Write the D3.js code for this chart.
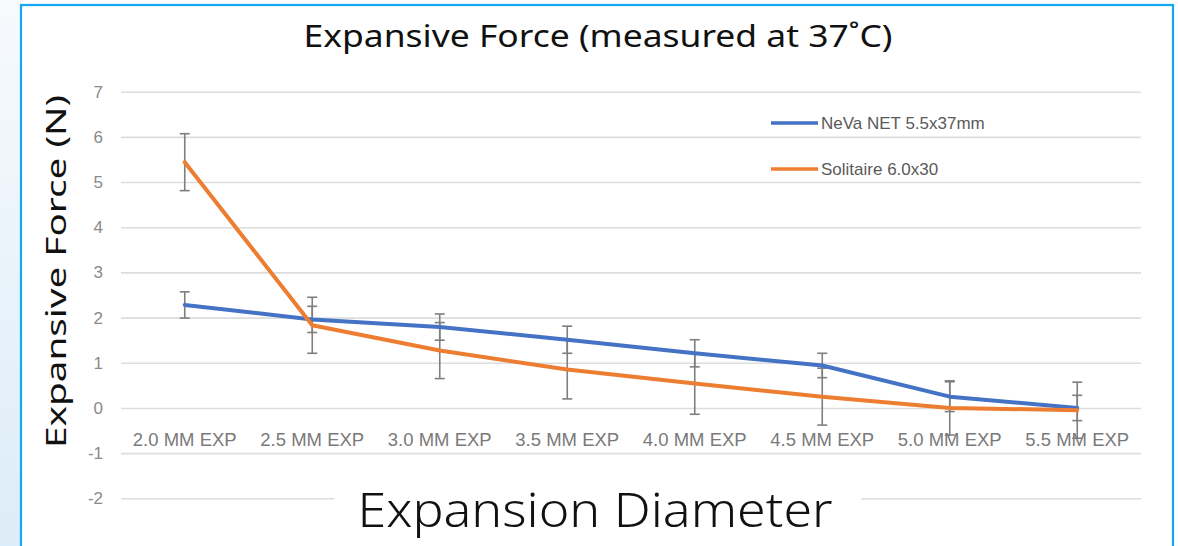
<!DOCTYPE html>
<html>
<head>
<meta charset="utf-8">
<script src="https://cdn.jsdelivr.net/npm/d3@7"></script>
<style>
  html, body { margin: 0; padding: 0; background: #ffffff; }
  svg { display: block; }
</style>
</head>
<body>
<div id="chart"></div>
<script>
// values
var categories = ["2.0 MM EXP", "2.5 MM EXP", "3.0 MM EXP", "3.5 MM EXP",
                  "4.0 MM EXP", "4.5 MM EXP", "5.0 MM EXP", "5.5 MM EXP"];
var nevaValues = [2.28, 1.96, 1.79, 1.51, 1.21, 0.94, 0.25, 0.0];
var nevaErrors = [0.29, 0.29, 0.29, 0.30, 0.30, 0.27, 0.33, 0.28];
var solitaireValues = [5.44, 1.83, 1.27, 0.85, 0.54, 0.25, 0.0, -0.05];
var solitaireErrors = [0.63, 0.62, 0.62, 0.65, 0.68, 0.63, 0.60, 0.62];
var yTicks = [-2, -1, 0, 1, 2, 3, 4, 5, 6, 7];
var seriesNames = ["NeVa NET 5.5x37mm", "Solitaire 6.0x30"];
var seriesColors = ["#4472c4", "#ed7d31"];

var width = 1178, height = 546;

var svg = d3.select('#chart').append('svg')
  .attr('width', width)
  .attr('height', height);

// background + framed panel
var defs = svg.append('defs');
var grad = defs.append('linearGradient')
  .attr('id', 'sideGrad')
  .attr('x1', 0).attr('y1', 0).attr('x2', 0).attr('y2', 1);
grad.append('stop').attr('offset', '0%').attr('stop-color', '#f7fafd');
grad.append('stop').attr('offset', '100%').attr('stop-color', '#dcecf8');

svg.append('rect').attr('x', 0).attr('y', 0).attr('width', 21).attr('height', height)
  .attr('fill', 'url(#sideGrad)');
svg.append('rect').attr('x', 21).attr('y', 5).attr('width', 1152).attr('height', height)
  .attr('fill', '#ffffff')
  .attr('stroke', '#12a8f2')
  .attr('stroke-width', 2.2);

var plot = {left: 121, right: 1141};

var x = d3.scaleBand()
  .domain(categories)
  .range([plot.left, plot.right]);

var y = d3.scaleLinear()
  .domain([-2, 7])
  .range([498.3, 91.7]);

var cx = function(c){ return x(c) + x.bandwidth()/2; };

// gridlines + y tick labels (plain hyphen for negatives, like the original)
var yAxis = svg.append('g')
  .attr('transform', 'translate(' + plot.left + ',0)')
  .call(d3.axisLeft(y)
    .tickValues(yTicks)
    .tickFormat(function(d){ return String(d); })
    .tickSizeInner(-(plot.right - plot.left))
    .tickSizeOuter(0)
    .tickPadding(18));
yAxis.select('.domain').remove();
yAxis.selectAll('.tick line')
  .attr('stroke', '#dddddd')
  .attr('stroke-width', 1.6);
yAxis.selectAll('.tick text')
  .attr('fill', '#8a8a8a')
  .style('font-family', '"Liberation Sans", Arial, sans-serif')
  .style('font-size', '17px');

// category labels
var xAxis = svg.append('g')
  .attr('transform', 'translate(0,' + y(0) + ')')
  .call(d3.axisBottom(x).tickSize(0).tickPadding(25));
xAxis.select('.domain').remove();
xAxis.selectAll('.tick text')
  .attr('fill', '#7a7a7a')
  .style('font-family', '"Liberation Sans", Arial, sans-serif')
  .style('font-size', '18.5px');

// x axis title with white backing that hides the -2 gridline
svg.append('rect')
  .attr('x', 334).attr('y', 478).attr('width', 527).attr('height', 68)
  .attr('fill', '#ffffff');
svg.append('text')
  .attr('x', 595).attr('y', 527)
  .attr('text-anchor', 'middle')
  .attr('textLength', 475)
  .attr('lengthAdjust', 'spacingAndGlyphs')
  .attr('fill', '#111111')
  .style('font-family', '"Noto Sans", sans-serif')
  .style('font-weight', '300')
  .style('font-size', '48px')
  .text('Expansion Diameter');

// chart title
svg.append('text')
  .attr('x', 598).attr('y', 47)
  .attr('text-anchor', 'middle')
  .attr('textLength', 589)
  .attr('lengthAdjust', 'spacingAndGlyphs')
  .attr('fill', '#111111')
  .style('font-family', '"Noto Sans", sans-serif')
  .style('font-size', '31px')
  .text('Expansive Force (measured at 37\u02DAC)');

// y axis title
svg.append('text')
  .attr('transform', 'translate(66,271.5) rotate(-90)')
  .attr('text-anchor', 'middle')
  .attr('textLength', 353)
  .attr('lengthAdjust', 'spacingAndGlyphs')
  .attr('fill', '#111111')
  .style('font-family', '"Noto Sans", sans-serif')
  .style('font-size', '27px')
  .text('Expansive Force (N)');

var series = [
  {name: seriesNames[0], color: seriesColors[0], values: nevaValues, errors: nevaErrors},
  {name: seriesNames[1], color: seriesColors[1], values: solitaireValues, errors: solitaireErrors}
];

// error bars
var capHalf = 5;
series.forEach(function(s){
  var rows = categories.map(function(c, i){
    return {c: c, v: s.values[i], e: s.errors[i]};
  });
  var g = svg.append('g')
    .attr('stroke', '#7f7f7f')
    .attr('stroke-width', 1.6);
  g.selectAll('line.bar').data(rows).enter().append('line')
    .attr('x1', function(d){ return cx(d.c); })
    .attr('x2', function(d){ return cx(d.c); })
    .attr('y1', function(d){ return y(d.v + d.e); })
    .attr('y2', function(d){ return y(d.v - d.e); });
  g.selectAll('line.capTop').data(rows).enter().append('line')
    .attr('x1', function(d){ return cx(d.c) - capHalf; })
    .attr('x2', function(d){ return cx(d.c) + capHalf; })
    .attr('y1', function(d){ return y(d.v + d.e); })
    .attr('y2', function(d){ return y(d.v + d.e); });
  g.selectAll('line.capBot').data(rows).enter().append('line')
    .attr('x1', function(d){ return cx(d.c) - capHalf; })
    .attr('x2', function(d){ return cx(d.c) + capHalf; })
    .attr('y1', function(d){ return y(d.v - d.e); })
    .attr('y2', function(d){ return y(d.v - d.e); });
});

// series lines
var line = d3.line()
  .x(function(d){ return cx(d.c); })
  .y(function(d){ return y(d.v); });

series.forEach(function(s){
  var rows = categories.map(function(c, i){ return {c: c, v: s.values[i]}; });
  svg.append('path')
    .datum(rows)
    .attr('d', line)
    .attr('fill', 'none')
    .attr('stroke', s.color)
    .attr('stroke-width', 4)
    .attr('stroke-linejoin', 'round')
    .attr('stroke-linecap', 'round');
});

// legend
var legend = svg.append('g').attr('transform', 'translate(771,123)');
var items = legend.selectAll('g').data(series).enter().append('g')
  .attr('transform', function(d, i){ return 'translate(0,' + (i*46) + ')'; });
items.append('line')
  .attr('x1', 0).attr('x2', 47)
  .attr('stroke', function(d){ return d.color; })
  .attr('stroke-width', 3.5);
items.append('text')
  .attr('x', 50).attr('y', 0).attr('dy', '0.35em')
  .attr('fill', '#5a5a5a')
  .style('font-family', '"Liberation Sans", Arial, sans-serif')
  .style('font-size', '17px')
  .text(function(d){ return d.name; });
</script>
</body>
</html>
